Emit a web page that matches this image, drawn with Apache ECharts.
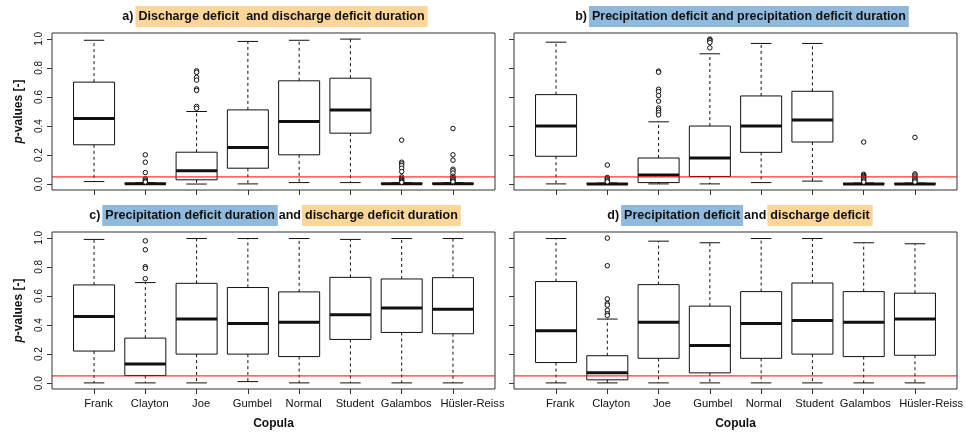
<!DOCTYPE html>
<html>
<head>
<meta charset="utf-8">
<script src="https://cdn.jsdelivr.net/npm/echarts@6/dist/echarts.min.js"></script>
<style>html,body{margin:0;padding:0;background:#fff}#c{width:966px;height:433px}</style>
</head>
<body>
<div id="c"></div>
<script>
const categories = ['Frank','Clayton','Joe','Gumbel','Normal','Student','Galambos','Hüsler-Reiss'];
const yTicks = [0, 0.2, 0.4, 0.6, 0.8, 1.0];
const redLineValue = 0.05;

// per copula: [lower whisker, Q1, median, Q3, upper whisker]
const statsA = [
  [0.018, 0.271, 0.452, 0.702, 0.990],
  [0.000, 0.001, 0.003, 0.005, 0.010],
  [0.001, 0.030, 0.092, 0.220, 0.500],
  [0.002, 0.110, 0.252, 0.511, 0.982],
  [0.011, 0.202, 0.431, 0.711, 0.990],
  [0.011, 0.351, 0.511, 0.729, 0.998],
  [0.000, 0.001, 0.003, 0.005, 0.010],
  [0.000, 0.001, 0.003, 0.005, 0.010]
];
const outliersA = [
  ['Clayton',0.202],['Clayton',0.151],['Clayton',0.080],['Clayton',0.037],['Clayton',0.028],['Clayton',0.020],['Clayton',0.015],
  ['Joe',0.780],['Joe',0.770],['Joe',0.735],['Joe',0.716],['Joe',0.655],['Joe',0.645],['Joe',0.535],['Joe',0.522],
  ['Galambos',0.303],['Galambos',0.151],['Galambos',0.140],['Galambos',0.128],['Galambos',0.110],['Galambos',0.087],
  ['Galambos',0.050],['Galambos',0.040],['Galambos',0.032],['Galambos',0.025],['Galambos',0.018],['Galambos',0.013],
  ['Hüsler-Reiss',0.383],['Hüsler-Reiss',0.202],['Hüsler-Reiss',0.165],['Hüsler-Reiss',0.103],['Hüsler-Reiss',0.092],
  ['Hüsler-Reiss',0.076],['Hüsler-Reiss',0.055],['Hüsler-Reiss',0.045],['Hüsler-Reiss',0.037],['Hüsler-Reiss',0.030],
  ['Hüsler-Reiss',0.022],['Hüsler-Reiss',0.016]
];

const statsB = [
  [0.002, 0.192, 0.400, 0.616, 0.977],
  [0.000, 0.001, 0.002, 0.004, 0.008],
  [0.002, 0.011, 0.064, 0.180, 0.429],
  [0.002, 0.053, 0.180, 0.400, 0.897],
  [0.011, 0.219, 0.400, 0.607, 0.968],
  [0.021, 0.290, 0.441, 0.639, 0.968],
  [0.000, 0.001, 0.002, 0.004, 0.008],
  [0.000, 0.001, 0.002, 0.004, 0.008]
];
const outliersB = [
  ['Clayton',0.132],['Clayton',0.046],['Clayton',0.038],['Clayton',0.030],['Clayton',0.022],['Clayton',0.016],
  ['Joe',0.778],['Joe',0.770],['Joe',0.653],['Joe',0.637],['Joe',0.610],['Joe',0.571],['Joe',0.523],['Joe',0.509],['Joe',0.493],['Joe',0.477],
  ['Gumbel',0.998],['Gumbel',0.992],['Gumbel',0.986],['Gumbel',0.975],['Gumbel',0.938],
  ['Galambos',0.290],['Galambos',0.068],['Galambos',0.060],['Galambos',0.052],['Galambos',0.045],['Galambos',0.037],
  ['Galambos',0.030],['Galambos',0.022],['Galambos',0.015],
  ['Hüsler-Reiss',0.322],['Hüsler-Reiss',0.071],['Hüsler-Reiss',0.062],['Hüsler-Reiss',0.050],['Hüsler-Reiss',0.040],
  ['Hüsler-Reiss',0.030],['Hüsler-Reiss',0.022],['Hüsler-Reiss',0.015]
];

const statsC = [
  [0.002, 0.221, 0.459, 0.676, 0.989],
  [0.002, 0.053, 0.132, 0.310, 0.692],
  [0.002, 0.200, 0.441, 0.687, 0.995],
  [0.011, 0.200, 0.411, 0.658, 0.995],
  [0.002, 0.183, 0.420, 0.628, 0.995],
  [0.002, 0.301, 0.470, 0.728, 0.989],
  [0.002, 0.349, 0.518, 0.717, 0.995],
  [0.002, 0.340, 0.509, 0.726, 0.995]
];
const outliersC = [
  ['Clayton',0.979],['Clayton',0.918],['Clayton',0.801],['Clayton',0.790],['Clayton',0.719]
];

const statsD = [
  [0.002, 0.142, 0.361, 0.699, 0.995],
  [0.002, 0.023, 0.071, 0.189, 0.441],
  [0.002, 0.171, 0.420, 0.678, 0.977],
  [0.002, 0.071, 0.260, 0.530, 0.966],
  [0.002, 0.171, 0.411, 0.630, 0.995],
  [0.002, 0.200, 0.432, 0.689, 0.995],
  [0.002, 0.183, 0.420, 0.630, 0.966],
  [0.002, 0.192, 0.441, 0.619, 0.959]
];
const outliersD = [
  ['Clayton',0.998],['Clayton',0.808],['Clayton',0.580],['Clayton',0.548],['Clayton',0.537],
  ['Clayton',0.502],['Clayton',0.477],['Clayton',0.466]
];

const FONT = '"Liberation Sans", Arial, Helvetica, sans-serif';
const INK = '#111';
const FRAME = '#333';
const ORANGE = '#FCD598';
const BLUE = '#8FBADD';
const RED = '#ff0000';

const panels = [
  {stats: statsA, out: outliersA, grid: {left: 52, top: 33, width: 443, height: 157}, yLab: true, xLab: false,
   title: '{n|a)}{o|Discharge deficit  and discharge deficit duration}', tx: 275, ty: 9},
  {stats: statsB, out: outliersB, grid: {left: 514, top: 33, width: 443, height: 157}, yLab: false, xLab: false,
   title: '{n|b)}{b|Precipitation deficit and precipitation deficit duration}', tx: 742, ty: 9},
  {stats: statsC, out: outliersC, grid: {left: 52, top: 232, width: 443, height: 157}, yLab: true, xLab: true,
   title: '{n|c)}{b|Precipitation deficit duration}{m|and}{o|discharge deficit duration}', tx: 275, ty: 208},
  {stats: statsD, out: outliersD, grid: {left: 514, top: 232, width: 443, height: 157}, yLab: false, xLab: true,
   title: '{n|d)}{b|Precipitation deficit}{m|and}{o|discharge deficit}', tx: 740, ty: 208}
];

const richTitle = {
  n: {fontFamily: FONT, fontWeight: 'bold', fontSize: 12.5, color: INK, padding: [4, 2, 3, 0], lineHeight: 15},
  m: {fontFamily: FONT, fontWeight: 'bold', fontSize: 12.5, color: INK, padding: [4, 1, 3, 1], lineHeight: 15},
  o: {fontFamily: FONT, fontWeight: 'bold', fontSize: 12.5, color: INK, backgroundColor: ORANGE, padding: [4, 3, 4, 3], lineHeight: 15},
  b: {fontFamily: FONT, fontWeight: 'bold', fontSize: 12.5, color: INK, backgroundColor: BLUE, padding: [4, 3, 4, 3], lineHeight: 15}
};

function renderBox(params, api) {
  const x = api.value(0);
  const vMin = api.value(1), q1 = api.value(2), med = api.value(3), q3 = api.value(4), vMax = api.value(5);
  const c = api.coord([x, med]);
  const cx = c[0];
  const halfBox = api.size([0.4, 0])[0];
  const halfCap = api.size([0.2, 0])[0];
  const yMin = api.coord([x, vMin])[1];
  const yQ1 = api.coord([x, q1])[1];
  const yMed = c[1];
  const yQ3 = api.coord([x, q3])[1];
  const yMax = api.coord([x, vMax])[1];
  const solid = {stroke: INK, lineWidth: 1, fill: null};
  const dashed = {stroke: INK, lineWidth: 1, lineDash: [3, 3], fill: null};
  return {
    type: 'group',
    children: [
      {type: 'line', shape: {x1: cx, y1: yQ3, x2: cx, y2: yMax}, style: dashed},
      {type: 'line', shape: {x1: cx, y1: yQ1, x2: cx, y2: yMin}, style: dashed},
      {type: 'line', shape: {x1: cx - halfCap, y1: yMax, x2: cx + halfCap, y2: yMax}, style: solid},
      {type: 'line', shape: {x1: cx - halfCap, y1: yMin, x2: cx + halfCap, y2: yMin}, style: solid},
      {type: 'rect', shape: {x: cx - halfBox, y: yQ3, width: 2 * halfBox, height: Math.max(yQ1 - yQ3, 0.5)}, style: solid},
      {type: 'line', shape: {x1: cx - halfBox, y1: yMed, x2: cx + halfBox, y2: yMed}, style: {stroke: INK, lineWidth: 3}}
    ]
  };
}

// horizontal reference line across the whole plot region, at a data value
function renderRefLine(params, api) {
  const cs = params.coordSys;
  const y = api.coord([1, api.value(0)])[1];
  return {type: 'line', shape: {x1: cs.x, y1: y, x2: cs.x + cs.width, y2: y},
          style: {stroke: RED, lineWidth: 1}};
}

const option = {
  animation: false,
  backgroundColor: '#fff',
  title: [], grid: [], xAxis: [], yAxis: [], series: []
};

panels.forEach((p, i) => {
  option.title.push({
    text: p.title, left: p.tx, top: p.ty, textAlign: 'center', padding: 0,
    textStyle: {rich: richTitle}
  });
  option.grid.push(Object.assign({show: true, borderColor: FRAME, borderWidth: 1, backgroundColor: 'transparent'}, p.grid));
  option.xAxis.push({
    type: 'value', gridIndex: i, min: 0.18, max: 8.82,
    splitLine: {show: false}, axisLine: {show: false, onZero: false},
    axisTick: {show: true, length: 5, inside: false, customValues: [1,2,3,4,5,6,7,8], lineStyle: {color: FRAME}},
    axisLabel: {show: false},
    name: p.xLab ? 'Copula' : '', nameLocation: 'middle', nameGap: 29,
    nameTextStyle: {fontFamily: FONT, fontWeight: 'bold', fontSize: 12, color: INK}
  });
  option.yAxis.push({
    type: 'value', gridIndex: i, min: -0.04, max: 1.04,
    splitLine: {show: false}, axisLine: {show: false, onZero: false},
    axisTick: {show: true, length: 5, customValues: yTicks, lineStyle: {color: FRAME}},
    axisLabel: {show: p.yLab, customValues: yTicks, rotate: 90, margin: 8, fontFamily: FONT, fontSize: 10, color: INK,
      formatter: v => v.toFixed(1)},
    name: p.yLab ? '{i|p}{r|-values [-]}' : '', nameLocation: 'middle', nameGap: 27, nameRotate: 90,
    nameTextStyle: {rich: {
      i: {fontFamily: FONT, fontWeight: 'bold', fontStyle: 'italic', fontSize: 12, color: INK},
      r: {fontFamily: FONT, fontWeight: 'bold', fontSize: 12, color: INK}
    }}
  });
  option.series.push({
    type: 'custom', xAxisIndex: i, yAxisIndex: i, renderItem: renderBox,
    encode: {x: 0, y: [1, 2, 3, 4, 5]},
    data: p.stats.map((s, k) => [k + 1].concat(s)), z: 2
  });
  option.series.push({
    type: 'scatter', xAxisIndex: i, yAxisIndex: i,
    symbol: 'circle', symbolSize: 4.5,
    itemStyle: {color: '#fff', borderColor: INK, borderWidth: 1, opacity: 1},
    data: p.out.map(o => [categories.indexOf(o[0]) + 1, o[1]]), z: 3
  });
  option.series.push({
    type: 'custom', xAxisIndex: i, yAxisIndex: i, renderItem: renderRefLine, silent: true,
    encode: {y: 0}, data: [[redLineValue]], z: 10
  });
});

// category-label strips under the bottom panels (plot region spans x = 0.18..8.82, boxes at 1..8)
[2, 3].forEach(pi => {
  const g = panels[pi].grid;
  const unit = g.width / 8.64;
  const gi = option.grid.length;
  option.grid.push({left: g.left + 0.32 * unit + 4.5, top: g.top, width: 8 * unit, height: g.height, show: false});
  option.xAxis.push({
    type: 'category', gridIndex: gi, data: categories, boundaryGap: true,
    axisLine: {show: false}, axisTick: {show: false}, splitLine: {show: false},
    axisLabel: {interval: 0, margin: 9, fontFamily: FONT, fontSize: 11.2, color: INK,
      formatter: v => v === 'Hüsler-Reiss' ? '{h|' + v + '}' : v,
      rich: {h: {fontFamily: FONT, fontSize: 11.2, color: INK, padding: [0, 0, 0, 30]}}}
  });
  option.yAxis.push({type: 'value', gridIndex: gi, show: false, min: 0, max: 1});
});

const chart = echarts.init(document.getElementById('c'), null, {renderer: 'canvas'});
chart.setOption(option);
</script>
</body>
</html>
